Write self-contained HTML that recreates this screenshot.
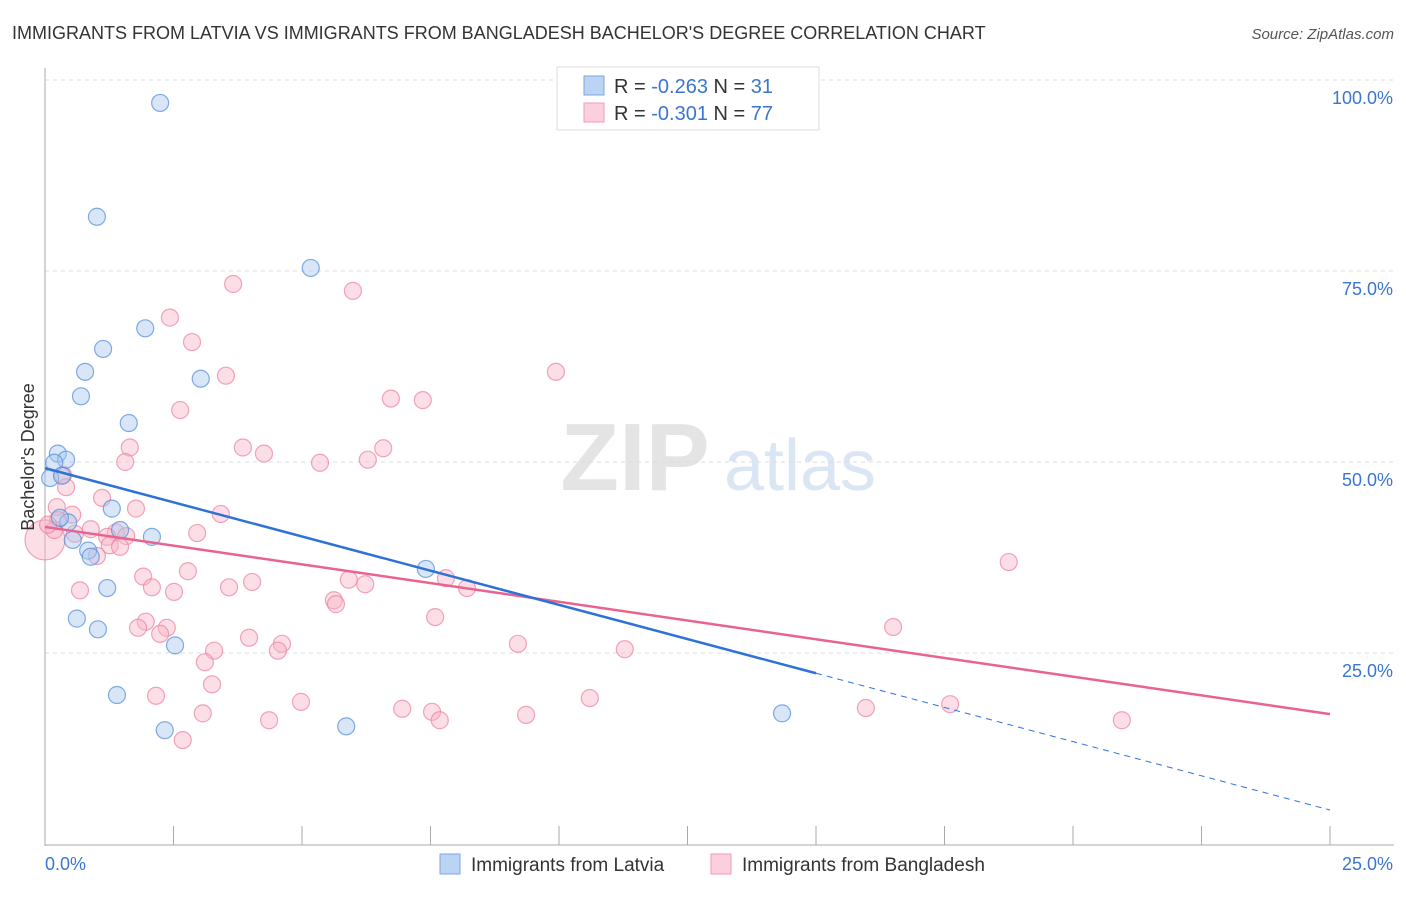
<!DOCTYPE html>
<html><head><meta charset="utf-8">
<style>
body{margin:0;background:#fff;font-family:"Liberation Sans",sans-serif;}
svg text{font-family:"Liberation Sans",sans-serif;}
</style></head>
<body>
<svg id="chart" width="1406" height="892" xmlns="http://www.w3.org/2000/svg">
<text x="12" y="39" font-size="18" fill="#333">IMMIGRANTS FROM LATVIA VS IMMIGRANTS FROM BANGLADESH BACHELOR'S DEGREE CORRELATION CHART</text>
<text x="1394" y="39" font-size="15" fill="#555" text-anchor="end" font-style="italic">Source: ZipAtlas.com</text>
<g>
<text x="635" y="490" font-size="96" fill="#e4e4e4" text-anchor="middle" font-family="Liberation Serif" font-weight="bold">ZIP</text>
<text x="800" y="490" font-size="72" fill="#dbe6f4" text-anchor="middle">atlas</text>
</g>
<g id="grid"></g>
<g id="axes"></g>
<g id="marks"></g>
<text transform="translate(34,457) rotate(-90)" font-size="18" fill="#333" text-anchor="middle">Bachelor's Degree</text>
<g>
<rect x="557" y="67" width="262" height="63" fill="#fff" stroke="#ddd"/>
<rect x="584" y="76" width="20" height="19" fill="#bcd4f4" stroke="#7ba6e0"/>
<rect x="584" y="103" width="20" height="19" fill="#fbd0dc" stroke="#f09ab4"/>
<text x="614" y="93" font-size="20" fill="#333">R = <tspan fill="#3a76d0">-0.263</tspan>   N =  <tspan fill="#3a76d0">31</tspan></text>
<text x="614" y="120" font-size="20" fill="#333">R = <tspan fill="#3a76d0">-0.301</tspan>   N = <tspan fill="#3a76d0">77</tspan></text>
</g>
<g>
<rect x="440" y="854" width="20" height="20" fill="#bcd4f4" stroke="#7ba6e0"/>
<text x="471" y="871" font-size="19" fill="#333">Immigrants from Latvia</text>
<rect x="711" y="854" width="20" height="20" fill="#fbd0dc" stroke="#f09ab4"/>
<text x="742" y="871" font-size="19" fill="#333">Immigrants from Bangladesh</text>
</g>
</svg>
<script>
const yTicks=[25,50,75,100];
const yTickLabels=["25.0%","50.0%","75.0%","100.0%"];
const xTickLabels=["0.0%","25.0%"];
const latviaX=[2.24,1.01,5.17,1.95,1.13,0.78,3.03,0.70,1.63,0.25,0.41,0.18,0.10,0.33,0.45,0.29,1.30,1.46,2.08,0.54,0.84,0.89,1.21,0.62,1.03,2.53,1.40,2.33,5.86,7.41,14.34];
const latviaY=[97.0,82.1,75.4,67.5,64.8,61.8,60.9,58.6,55.1,51.1,50.3,49.9,47.9,48.2,42.1,42.7,43.9,41.1,40.2,39.8,38.4,37.6,33.5,29.5,28.1,26.0,19.5,14.9,15.4,36.0,17.1];
const bangX=[3.66,5.99,2.43,2.86,3.52,9.94,2.63,6.73,7.35,3.85,6.58,1.65,4.26,1.56,5.35,6.28,0.35,0.41,18.75,1.11,3.42,1.77,0.23,0.53,0.25,0.89,1.38,0.58,2.96,1.21,1.58,1.26,1.46,0.0,1.01,2.78,1.91,4.03,3.58,2.08,0.68,2.51,5.91,6.23,7.80,8.21,5.62,5.66,7.59,1.96,1.81,2.37,2.24,3.97,4.61,4.53,9.20,11.28,3.29,3.11,16.50,3.25,2.16,4.98,3.07,4.36,6.95,7.53,7.68,9.36,10.60,2.68,15.97,17.61,20.95,0.18,0.06];
const bangY=[73.3,72.4,68.9,65.7,61.3,61.8,56.8,58.3,58.1,51.9,51.8,51.9,51.1,50.0,49.9,50.3,48.3,46.7,36.9,45.3,43.2,43.9,44.1,43.1,42.4,41.2,40.8,40.6,40.7,40.2,40.3,39.1,38.9,39.8,37.7,35.7,35.0,34.3,33.6,33.6,33.2,33.0,34.6,34.0,34.8,33.5,31.9,31.4,29.7,29.1,28.3,28.3,27.5,27.0,26.2,25.3,26.2,25.5,25.3,23.8,28.4,20.9,19.4,18.6,17.1,16.2,17.7,17.3,16.2,16.9,19.1,13.6,17.8,18.3,16.2,41.1,41.8];
const latviaTrend=[49.2,4.45];
const bangTrend=[41.5,17.0];
const NS="http://www.w3.org/2000/svg";
const X0=45,X1=1330,Y0=844,Y100=80;
function sx(v){return X0+(v/25)*(X1-X0);}
function sy(v){return Y0-(v/100)*(Y0-Y100);}
function mk(tag,attrs,parent){const e=document.createElementNS(NS,tag);for(const k in attrs)e.setAttribute(k,attrs[k]);parent.appendChild(e);return e;}
const grid=document.getElementById('grid'),axes=document.getElementById('axes'),marks=document.getElementById('marks');
yTicks.forEach((t,i)=>{
 const l=mk('line',{x1:X0,x2:1394,y1:sy(t),y2:sy(t),stroke:'#ddd','stroke-dasharray':'4,4'},grid);
 
 
 const tx=mk('text',{x:1393,y:sy(t)+24,'font-size':18,fill:'#3a76d0','text-anchor':'end'},axes);
 tx.textContent=yTickLabels[i];
 
 
});
const ax=mk('line',{x1:X0,x2:X0,y1:68,y2:Y0+2,stroke:'#aaa'},axes);


const bx=mk('line',{x1:X0,x2:1394,y1:Y0+1,y2:Y0+1,stroke:'#aaa'},axes);


for(let i=0;i<=10;i++){
 const v=i*2.5;
 const t=mk('line',{x1:sx(v),x2:sx(v),y1:826,y2:Y0+1,stroke:'#aaa'},axes);
 
 
}
[[0,'start',45],[25,'end',1393]].forEach((d,i)=>{
 const tx=mk('text',{x:d[2],y:870,'font-size':18,fill:'#3a76d0','text-anchor':d[1]},axes);
 tx.textContent=xTickLabels[i];
 
 
});
function dots(xs,ys,fill,stroke,name,big){
 xs.forEach((x,i)=>{
  const r=big.includes(i)?20:8.5;
  const c=mk('circle',{cx:sx(x),cy:sy(ys[i]),r:r,fill:fill,'fill-opacity':0.45,stroke:stroke,'stroke-opacity':0.7,'stroke-width':1.2},marks);
  
  
 });
}
dots(bangX,bangY,'#f7b6c8','#ec7fa0','bangladesh-point',[33]);
dots(latviaX,latviaY,'#a9c8f0','#4f8ad8','latvia-point',[]);
function lerp(a,b,x){return a+(b-a)*x/25;}
const l1=mk('line',{x1:sx(0),y1:sy(bangTrend[0]),x2:sx(25),y2:sy(bangTrend[1]),stroke:'#e8638f','stroke-width':2.5},marks);


const l2=mk('line',{x1:sx(0),y1:sy(latviaTrend[0]),x2:sx(15),y2:sy(lerp(latviaTrend[0],latviaTrend[1],15)),stroke:'#2f72d6','stroke-width':2.5},marks);


const l3=mk('line',{x1:sx(15),y1:sy(lerp(latviaTrend[0],latviaTrend[1],15)),x2:sx(25),y2:sy(latviaTrend[1]),stroke:'#2f72d6','stroke-width':1,'stroke-dasharray':'6,5'},marks);


</script>
</body></html>
